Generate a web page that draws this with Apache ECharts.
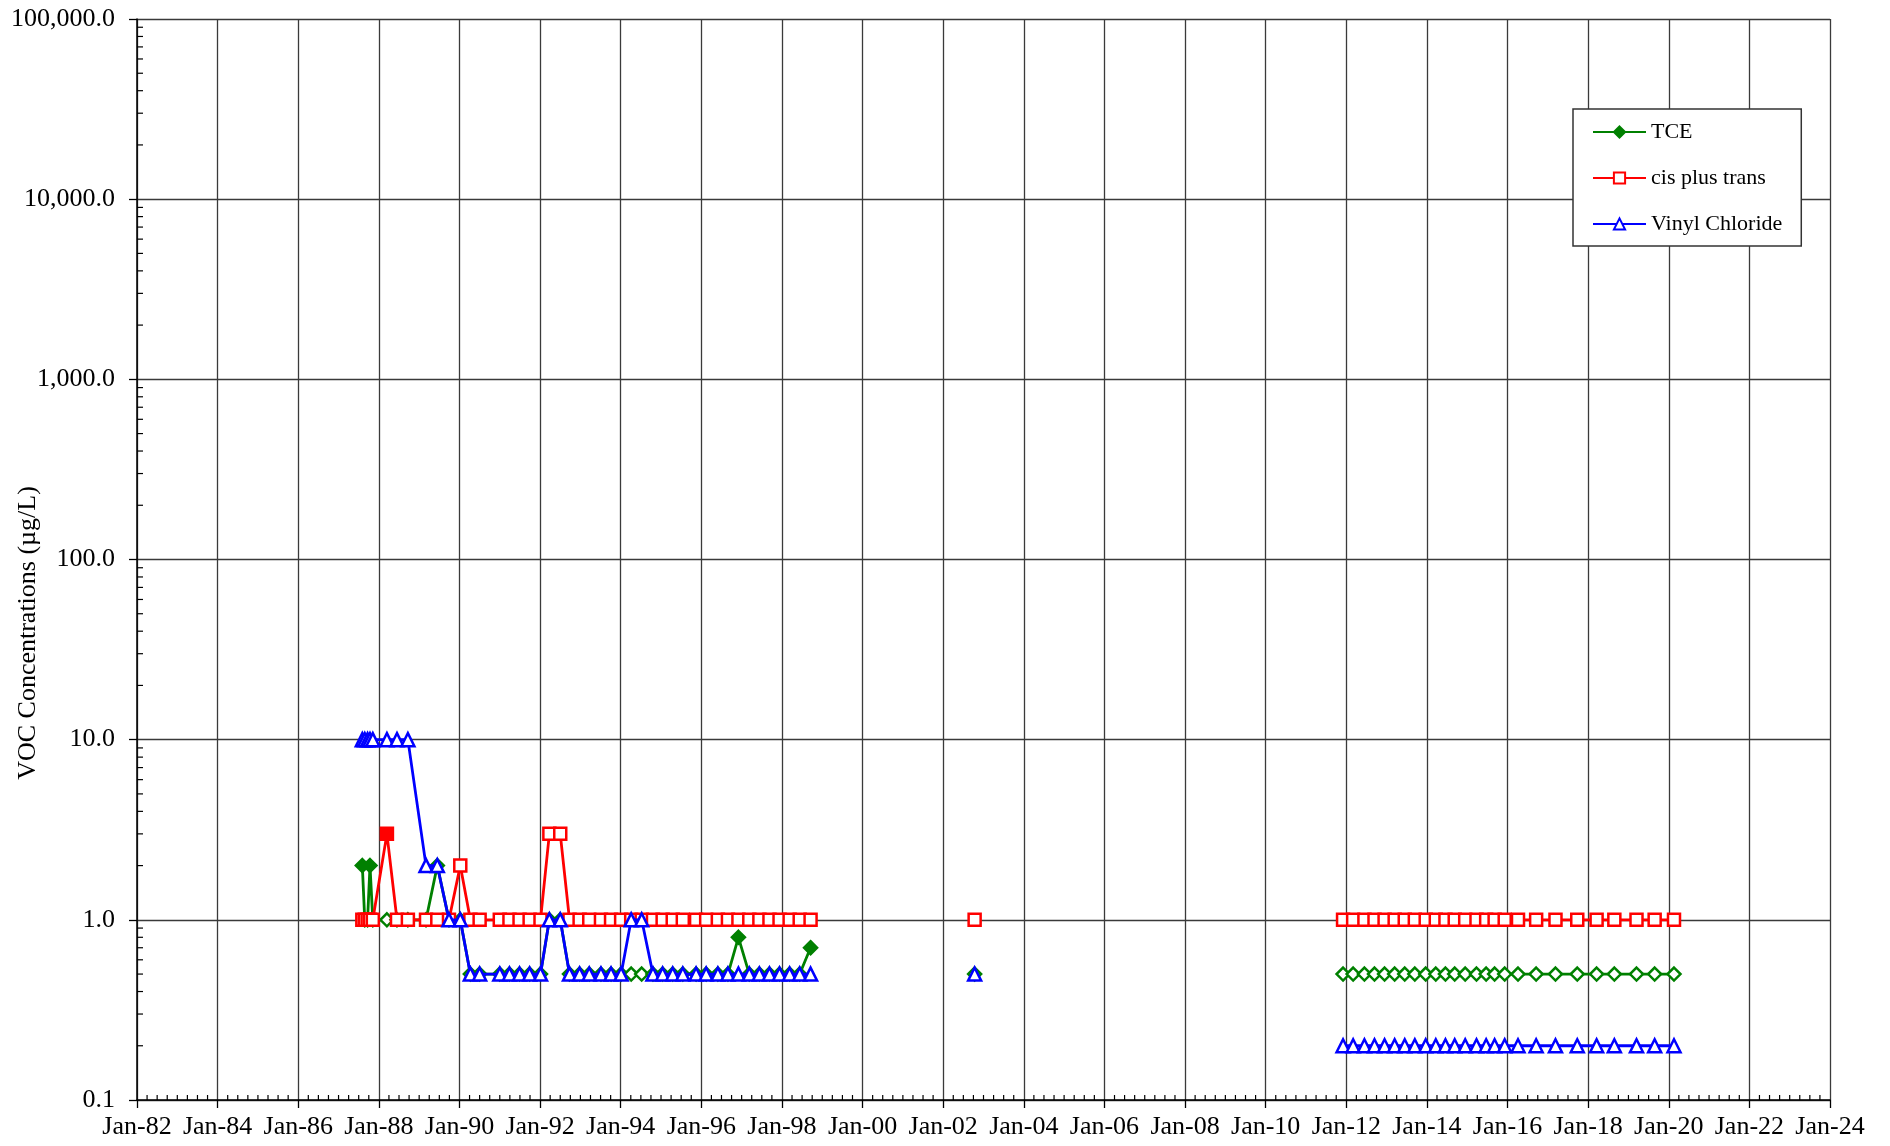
<!DOCTYPE html>
<html><head><meta charset="utf-8">
<script src="https://cdn.jsdelivr.net/npm/echarts@6/dist/echarts.min.js"></script>
<style>html,body{margin:0;padding:0;background:#fff}#c{width:1890px;height:1146px}</style>
</head><body><div id="c"></div>
<script>
// ---------------- data ----------------
const seriesNames = ['TCE', 'cis plus trans', 'Vinyl Chloride'];
// sampling dates as decimal years
const sampleDates = [
  1987.59, 1987.65, 1987.72, 1987.78, 1987.85,
  1988.20, 1988.45, 1988.72,
  1989.17, 1989.45, 1989.74, 1990.02,
  1990.27, 1990.50,
  1991.00, 1991.24, 1991.49, 1991.74, 1992.01,
  1992.23, 1992.50,
  1992.73, 1992.98, 1993.22, 1993.51, 1993.76, 1994.01,
  1994.26, 1994.52,
  1994.80, 1995.04, 1995.29, 1995.54,
  1995.87, 1996.12, 1996.41, 1996.66, 1996.92, 1997.19, 1997.44, 1997.69, 1997.94, 1998.19, 1998.44, 1998.71,
  2002.78,
  2011.92, 2012.17, 2012.45, 2012.70, 2012.95, 2013.20, 2013.45, 2013.70, 2013.97,
  2014.22, 2014.46, 2014.69, 2014.95, 2015.23, 2015.47, 2015.68, 2015.93,
  2016.26, 2016.71, 2017.19, 2017.73, 2018.21, 2018.65, 2019.20, 2019.65, 2020.13
];
const tceValues = [
  2, 1, 1, 2, 1,
  1, 1, 1,
  1, 2, 1, 1,
  0.5, 0.5,
  0.5, 0.5, 0.5, 0.5, 0.5,
  1, 1,
  0.5, 0.5, 0.5, 0.5, 0.5, 0.5,
  0.5, 0.5,
  0.5, 0.5, 0.5, 0.5,
  0.5, 0.5, 0.5, 0.5, 0.8, 0.5, 0.5, 0.5, 0.5, 0.5, 0.5, 0.7,
  0.5,
  0.5, 0.5, 0.5, 0.5, 0.5, 0.5, 0.5, 0.5, 0.5,
  0.5, 0.5, 0.5, 0.5, 0.5, 0.5, 0.5, 0.5,
  0.5, 0.5, 0.5, 0.5, 0.5, 0.5, 0.5, 0.5, 0.5
];
// 1 = detected (filled marker), 0 = not detected (open marker)
const tceDetected = [
  1, 0, 0, 1, 0,  0, 0, 0,  0, 0, 0, 0,  0, 0,  0, 0, 0, 0, 0,  0, 0,
  0, 0, 0, 0, 0, 0,  0, 0,  0, 0, 0, 0,
  0, 0, 0, 0, 1, 0, 0, 0, 0, 0, 0, 1,
  0,
  0, 0, 0, 0, 0, 0, 0, 0, 0,  0, 0, 0, 0, 0, 0, 0, 0,  0, 0, 0, 0, 0, 0, 0, 0, 0
];
const cisValues = [
  1, 1, 1, 1, 1,
  3, 1, 1,
  1, 1, 1, 2,
  1, 1,
  1, 1, 1, 1, 1,
  3, 3,
  1, 1, 1, 1, 1, 1,
  1, 1,
  1, 1, 1, 1,
  1, 1, 1, 1, 1, 1, 1, 1, 1, 1, 1, 1,
  1,
  1, 1, 1, 1, 1, 1, 1, 1, 1,
  1, 1, 1, 1, 1, 1, 1, 1,
  1, 1, 1, 1, 1, 1, 1, 1, 1
];
const cisDetected = [
  0, 0, 0, 0, 0,  1, 0, 0,  0, 0, 0, 0,  0, 0,  0, 0, 0, 0, 0,  0, 0,
  0, 0, 0, 0, 0, 0,  0, 0,  0, 0, 0, 0,
  0, 0, 0, 0, 0, 0, 0, 0, 0, 0, 0, 0,
  0,
  0, 0, 0, 0, 0, 0, 0, 0, 0,  0, 0, 0, 0, 0, 0, 0, 0,  0, 0, 0, 0, 0, 0, 0, 0, 0
];
const vcValues = [
  10, 10, 10, 10, 10,
  10, 10, 10,
  2, 2, 1, 1,
  0.5, 0.5,
  0.5, 0.5, 0.5, 0.5, 0.5,
  1, 1,
  0.5, 0.5, 0.5, 0.5, 0.5, 0.5,
  1, 1,
  0.5, 0.5, 0.5, 0.5,
  0.5, 0.5, 0.5, 0.5, 0.5, 0.5, 0.5, 0.5, 0.5, 0.5, 0.5, 0.5,
  0.5,
  0.2, 0.2, 0.2, 0.2, 0.2, 0.2, 0.2, 0.2, 0.2,
  0.2, 0.2, 0.2, 0.2, 0.2, 0.2, 0.2, 0.2,
  0.2, 0.2, 0.2, 0.2, 0.2, 0.2, 0.2, 0.2, 0.2
];
const yAxisTitle = 'VOC Concentrations (µg/L)';
const xMin = 1982, xMax = 2024, xStep = 2;
const yMin = 0.1, yMax = 100000;

// ---------------- build ----------------
const GREEN = '#008000', RED = '#ff0000', BLUE = '#0000ff';
const FONT = '"Liberation Serif", "Times New Roman", serif';

function buildData(values, detected, fillColor) {
  const out = [];
  for (let i = 0; i < sampleDates.length; i++) {
    if (i > 0 && sampleDates[i] - sampleDates[i - 1] > 2) {
      out.push([(sampleDates[i] + sampleDates[i - 1]) / 2, '-']); // break the line at long gaps
    }
    const item = { value: [sampleDates[i], values[i]] };
    if (detected) {
      item.itemStyle = { color: detected[i] ? fillColor : '#ffffff' };
    }
    out.push(item);
  }
  return out;
}

const xMinor = [];
for (let y = xMin; y < xMax; y += 0.25) {
  if (Math.abs(y / xStep - Math.round(y / xStep)) > 1e-6) xMinor.push(y);
}
const yMinor = [];
for (let d = -1; d < 5; d++) for (let m = 2; m <= 9; m++) yMinor.push(m * Math.pow(10, d));

const chart = echarts.init(document.getElementById('c'), null, { renderer: 'canvas' });
const option = {
  backgroundColor: '#ffffff',
  animation: false,
  grid: { left: 137, right: 60, top: 19, bottom: 46, containLabel: false },
  xAxis: {
    type: 'value', min: xMin, max: xMax, interval: xStep,
    axisLine: { show: true, lineStyle: { color: '#000', width: 1.5 } },
    axisTick: { show: true, inside: false, length: 8, lineStyle: { color: '#000', width: 1.3 } },
    splitLine: { show: true, lineStyle: { color: '#3a3a3a', width: 1.3 } },
    axisLabel: {
      color: '#000', fontFamily: FONT, fontSize: 26, margin: 14,
      showMinLabel: true, showMaxLabel: true,
      formatter: v => 'Jan-' + String(Math.round(v) % 100).padStart(2, '0')
    }
  },
  yAxis: {
    type: 'log', logBase: 10, min: yMin, max: yMax,
    axisLine: { show: true, lineStyle: { color: '#000', width: 1.5 } },
    axisTick: { show: true, inside: false, length: 8, lineStyle: { color: '#000', width: 1.3 } },
    splitLine: { show: true, lineStyle: { color: '#3a3a3a', width: 1.3 } },
    axisLabel: {
      color: '#000', fontFamily: FONT, fontSize: 26, margin: 22,
      showMinLabel: true, showMaxLabel: true,
      formatter: v => Number(v).toLocaleString('en-US', { minimumFractionDigits: 1, maximumFractionDigits: 1 })
    }
  },
  legend: {
    data: seriesNames,
    orient: 'vertical', left: 1573, top: 109,
    padding: [11, 19, 10, 19], itemGap: 22,
    itemWidth: 53, itemHeight: 14,
    backgroundColor: '#fff', borderColor: '#333', borderWidth: 1.5,
    textStyle: { color: '#000', fontFamily: FONT, fontSize: 22, lineHeight: 24 }
  },
  graphic: [{
    type: 'text', x: 28, y: 633, rotation: Math.PI / 2,
    style: { text: yAxisTitle, fontFamily: FONT, fontSize: 26, fill: '#000', align: 'center', verticalAlign: 'middle' }
  }],
  series: [
    {
      name: seriesNames[0], type: 'line', symbol: 'diamond', symbolSize: 13, showAllSymbol: true,
      connectNulls: false,
      lineStyle: { color: GREEN, width: 2.8 },
      itemStyle: { color: GREEN, borderColor: GREEN, borderWidth: 2.5 },
      data: buildData(tceValues, tceDetected, GREEN), z: 3
    },
    {
      name: seriesNames[1], type: 'line', symbol: 'rect', symbolSize: 12, showAllSymbol: true,
      connectNulls: false,
      lineStyle: { color: RED, width: 2.8 },
      itemStyle: { color: '#ffffff', borderColor: RED, borderWidth: 2.5 },
      data: buildData(cisValues, cisDetected, RED), z: 4
    },
    {
      name: seriesNames[2], type: 'line', symbol: 'triangle', symbolSize: 13, showAllSymbol: true,
      connectNulls: false,
      lineStyle: { color: BLUE, width: 2.8 },
      itemStyle: { color: '#ffffff', borderColor: BLUE, borderWidth: 2.5 },
      data: buildData(vcValues, null, BLUE), z: 5
    },
    {
      name: 'minorTicks', type: 'custom', silent: true, clip: false, z: 6,
      data: [[xMin, yMin]],
      renderItem: function (params, api) {
        const children = [];
        xMinor.forEach(v => {
          const p = api.coord([v, yMin]);
          children.push({ type: 'line', shape: { x1: p[0], y1: p[1], x2: p[0], y2: p[1] - 5 }, style: { stroke: '#000', lineWidth: 1.2 } });
        });
        yMinor.forEach(v => {
          const p = api.coord([xMin, v]);
          children.push({ type: 'line', shape: { x1: p[0], y1: p[1], x2: p[0] + 6, y2: p[1] }, style: { stroke: '#000', lineWidth: 1.2 } });
        });
        return { type: 'group', children: children };
      }
    }
  ]
};
chart.setOption(option);
</script>
</body></html>
